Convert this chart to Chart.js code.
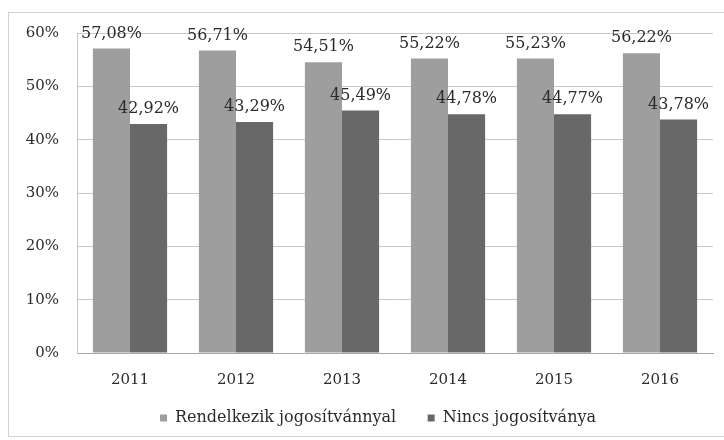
<!DOCTYPE html>
<html>
<head>
<meta charset="utf-8">
<script src="https://cdn.jsdelivr.net/npm/chart.js@4"></script>
<style>
    body { margin: 0; background: #fff; overflow: hidden; }
    #box {
        position: absolute;
        left: 8px; top: 12px;
        width: 718px; height: 423px;
        border: 1px solid #d2d2d2;
    }
</style>
</head>
<body>
<div id="box"><canvas id="licenceChart"></canvas></div>
<script>
// Years on the x axis
let years = ["2011", "2012", "2013", "2014", "2015", "2016"];

// Share of people with / without a driving licence (%)
let hasLicence = [57.08, 56.71, 54.51, 55.22, 55.23, 56.22];
let noLicence = [42.92, 43.29, 45.49, 44.78, 44.77, 43.78];

let seriesNames = ["Rendelkezik jogosítvánnyal", "Nincs jogosítványa"];

let serif = "'DejaVu Serif', 'Liberation Serif', serif";

// Writes the value above every bar, with a decimal comma
const valueLabels = {
    id: 'valueLabels',
    afterDatasetsDraw(chart) {
        let ctx = chart.ctx;
        ctx.save();
        ctx.font = "16px " + serif;
        ctx.fillStyle = "#2b2b2b";
        ctx.textAlign = "center";
        ctx.textBaseline = "bottom";
        chart.data.datasets.forEach((ds, i) => {
            chart.getDatasetMeta(i).data.forEach((bar, j) => {
                let txt = ds.data[j].toFixed(2).replace('.', ',') + '%';
                ctx.fillText(txt, bar.x, bar.y - 7);
            });
        });
        ctx.restore();
    }
};

// The legend is centred under the plot, not under the whole canvas
const legendUnderPlot = {
    id: 'legendUnderPlot',
    afterLayout(chart) {
        chart.legend.left += chart.chartArea.left / 2;
    }
};

new Chart("licenceChart", {
    type: "bar",
    data: {
        labels: years,
        datasets: [{
            label: seriesNames[0],
            data: hasLicence,
            backgroundColor: "#9e9e9e"
        }, {
            label: seriesNames[1],
            data: noLicence,
            backgroundColor: "#686868"
        }]
    },
    options: {
        animation: false,
        maintainAspectRatio: false,
        layout: { padding: { top: 20, right: 14, left: 0, bottom: 0 } },
        datasets: { bar: { categoryPercentage: 0.7, barPercentage: 1 } },
        scales: {
            x: {
                afterFit(scale) { scale.height = 51; },
                grid: { display: false },
                border: { color: "#a8a8a8" },
                ticks: { color: "#2b2b2b", font: { family: serif, size: 15 }, padding: 10 }
            },
            y: {
                min: 0,
                max: 60,
                // fixed width; the top padding is left to layout.padding
                afterFit(scale) {
                    scale.width = 68;
                    scale.paddingTop = 0;
                },
                grid: { color: "#c8c8c8", drawTicks: false },
                border: { color: "#c4c4c4" },
                ticks: {
                    stepSize: 10,
                    padding: 18,
                    color: "#2b2b2b",
                    font: { family: serif, size: 15 },
                    callback: v => v + '%'
                }
            }
        },
        plugins: {
            legend: {
                position: 'bottom',
                labels: {
                    boxWidth: 7,
                    boxHeight: 7,
                    padding: 6,
                    color: "#2b2b2b",
                    font: { family: serif, size: 16 },
                    // a few trailing spaces widen the gap between the two items
                    generateLabels(chart) {
                        let items = Chart.defaults.plugins.legend.labels.generateLabels(chart);
                        items[0].text += "\u00a0\u00a0\u00a0\u00a0\u00a0";
                        return items;
                    }
                }
            },
            tooltip: { enabled: false }
        }
    },
    plugins: [valueLabels, legendUnderPlot]
});
</script>
</body>
</html>
